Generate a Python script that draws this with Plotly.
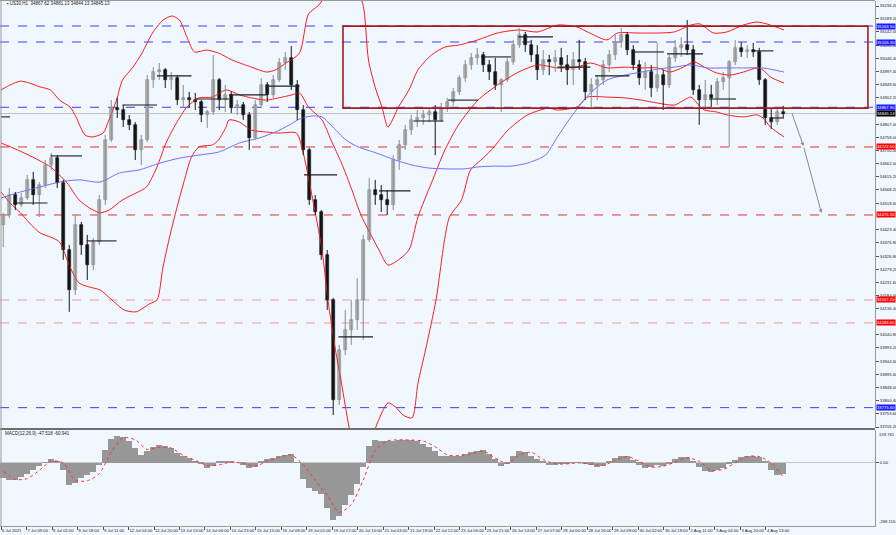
import plotly.graph_objects as go

# ---------------- data ----------------
symbol_title = "US30,H1  34867.62 34881.13 34844.13 34845.13"
macd_title = "MACD(12,26,9) -47.518 -60.941"
bars_per_candle = 4   # each drawn candle groups 4 hourly bars

opens = [34440,34476,34549,34513,34538,34604,34549,34585,34658,34684,
         34593,34349,34204,34440,34367,34294,34378,34531,34749,34865,
         34858,34822,34804,34713,34749,34967,34996,35004,34967,34974,
         34894,34902,34894,34887,34840,34851,34967,34894,34913,34865,
         34876,34840,34756,34876,34949,34913,34967,35029,35047,34949,
         34858,34713,34531,34487,34331,34167,33804,33985,34058,34095,
         34167,34385,34567,34549,34531,34513,34676,34731,34785,34822,
         34829,34840,34851,34822,34865,34887,34924,34974,35022,35047,
         35058,35022,34996,34949,34967,35033,35094,35131,35094,35058,
         35004,35040,35033,35047,35022,35004,35040,35033,34924,34949,
         34967,35022,35058,35105,35131,35076,35022,34974,34996,34938,
         34985,34949,35047,35084,35094,35076,34931,34894,34913,34902,
         34960,34974,35033,35084,35069,35076,35069,34967,34829,34814,
         34851]
highs = [34484,34574,34560,34556,34622,34633,34596,34676,34702,34694,
         34604,34367,34476,34451,34404,34393,34549,34767,34894,34902,
         34876,34840,34814,34767,34985,35014,35029,35011,34996,34985,
         34949,34924,34920,34894,34858,35058,34974,34949,34924,34894,
         34887,34851,34894,34974,34960,34985,35047,35069,35091,34967,
         34876,34720,34549,34494,34349,34175,34004,34131,34167,34247,
         34404,34611,34604,34585,34567,34694,34749,34804,34840,34858,
         34858,34865,34876,34884,34902,34938,34985,35040,35065,35084,
         35069,35040,35047,34974,35047,35113,35156,35142,35113,35094,
         35076,35058,35076,35084,35058,35069,35113,35047,34974,34985,
         35040,35076,35131,35156,35142,35094,35040,35033,35022,35102,
         35004,35058,35113,35123,35185,35094,34949,34967,34949,34974,
         34996,35040,35113,35105,35094,35102,35084,34974,34865,34869,
         34873]
lows = [34360,34465,34494,34505,34531,34513,34469,34574,34640,34574,
        34313,34124,34185,34331,34240,34276,34367,34513,34742,34829,
        34796,34785,34676,34658,34742,34938,34967,34938,34931,34876,
        34865,34865,34858,34814,34793,34840,34858,34851,34847,34840,
        34822,34713,34749,34865,34887,34902,34960,35004,34931,34822,
        34694,34513,34476,34313,34131,33749,33785,33967,34004,34058,
        34022,34378,34513,34487,34476,34494,34640,34713,34767,34796,
        34804,34814,34694,34814,34851,34873,34913,34960,35004,35022,
        34996,34967,34931,34851,34960,35022,35084,35069,35033,34967,
        34985,34985,34996,34996,34949,34949,35004,34894,34869,34894,
        34949,34996,35040,35084,35058,35004,34949,34931,34905,34924,
        34858,34938,35033,35051,35058,34913,34804,34858,34869,34876,
        34931,34724,35022,35051,35047,35051,34949,34804,34789,34804,
        34829]
closes = [34476,34549,34513,34538,34604,34549,34585,34658,34684,34593,
          34349,34204,34440,34367,34294,34378,34531,34749,34865,34858,
          34822,34804,34713,34749,34967,34996,35004,34967,34974,34894,
          34902,34894,34887,34840,34851,34967,34894,34913,34865,34876,
          34840,34756,34876,34949,34913,34967,35029,35047,34949,34858,
          34713,34531,34487,34331,34167,33804,33985,34058,34095,34167,
          34385,34567,34549,34531,34513,34676,34731,34785,34822,34829,
          34840,34851,34822,34865,34887,34924,34974,35022,35047,35058,
          35022,34996,34949,34967,35033,35094,35131,35094,35058,35004,
          35040,35033,35047,35022,35004,35040,35033,34924,34949,34967,
          35022,35058,35105,35131,35076,35022,34974,34996,34938,34985,
          34949,35047,35084,35094,35076,34931,34894,34913,34902,34960,
          34974,35033,35084,35069,35076,35069,34967,34829,34814,34851,
          34845]

# Bollinger bands (red) and moving average (blue): (bar index, price)
upper_t = [0,6,13,19,26,33,39,46,50,56,61,68,72,77,81,88,94,101,108,114,
           119,124,129,137,145,154,167,177,183,190,199,205,212,218,225,232,237,242,245,250,
           254,258,265,272,278,287,296,305,318,331,345,358,371,384,391,404,411,424,438,449,
           460,466,475,484,495,504,513,522]
upper_p = [34931,34949,34963,34956,34942,34931,34894,34869,34833,34767,34760,34774,34822,34894,34967,35014,35065,35138,35185,35200,
           35185,35123,35069,35076,35065,35040,35014,34996,35004,35029,35065,35207,35240,35294,35403,35429,35331,35222,35040,34931,
           34869,34796,34869,34931,35004,35058,35087,35094,35113,35138,35149,35142,35167,35160,35142,35113,35138,35138,35138,35142,
           35167,35171,35138,35142,35167,35178,35167,35149]
middle_t = [0,11,21,33,44,52,59,66,72,81,90,97,104,110,117,124,132,141,150,159,
            167,177,185,194,199,205,214,220,227,234,240,252,258,265,272,278,287,296,305,318,
            331,345,358,371,384,393,404,416,427,438,446,455,462,469,477,486,495,504,508,513,522]
middle_p = [34738,34713,34687,34651,34593,34531,34502,34484,34494,34531,34556,34578,34651,34738,34811,34869,34902,34905,34931,34913,
            34902,34894,34902,34913,34920,34869,34822,34749,34665,34567,34476,34349,34294,34313,34349,34469,34593,34713,34804,34894,
            34949,34996,35022,35011,35014,35029,35011,35014,35011,35011,34996,35014,35033,35014,34993,34985,34996,35011,35004,34978,34956]
lower_t = [0,6,13,19,26,33,39,46,52,59,66,74,82,90,99,104,108,114,121,127,
           132,141,145,150,152,159,167,177,185,197,201,207,214,218,223,227,232,237,242,245,
           250,258,263,268,274,278,283,290,296,299,307,313,320,327,338,351,365,371,384,391,
           404,416,427,438,449,460,464,469,477,484,495,504,508,513,522]
lower_p = [34560,34520,34484,34447,34411,34396,34378,34287,34229,34214,34204,34167,34131,34124,34153,34167,34287,34433,34578,34687,
           34724,34731,34749,34796,34822,34814,34785,34778,34774,34774,34713,34556,34349,34167,33985,33865,33706,33585,33549,33604,
           33706,33793,33778,33749,33738,33865,33985,34167,34396,34469,34531,34640,34676,34713,34785,34840,34865,34858,34869,34905,
           34905,34902,34894,34883,34876,34905,34883,34858,34851,34840,34833,34840,34829,34796,34760]
ma_t = [0,13,26,39,52,66,79,92,106,119,132,145,159,172,183,192,199,207,214,220,
        230,238,250,263,274,285,296,309,318,329,340,351,363,371,381,393,404,416,427,438,
        449,460,471,482,495,508,522]
ma_p = [34538,34560,34578,34596,34604,34596,34629,34640,34665,34683,34694,34705,34738,34756,34778,34803,34825,34836,34833,34803,
        34749,34724,34702,34676,34658,34647,34644,34644,34651,34654,34654,34665,34694,34760,34840,34920,34967,34985,34996,35007,
        35014,35022,35011,35011,35011,35011,34996]

# daily black level segments
seg_t0 = [0,8,33,57,81,104,130,152,177,202,225,252,275,298,320,345,371,396,421,444,472,502,513]
seg_t1 = [6,31,54,77,104,127,152,177,199,224,248,273,295,318,340,368,393,419,442,468,490,515,522]
seg_p = [34833,34520,34691,34382,34876,34982,34898,34913,34945,34622,34033,34564,34818,34894,35051,
         35124,35014,34982,35069,35062,34898,35073,34829]

# MACD histogram (per drawn candle) and signal (every second candle)
macd_hist = [-64,-74,-74,-62,-46,-31,-15,3,17,8,
             -32,-93,-84,-64,-53,-39,-11,55,101,116,
             112,91,62,32,50,67,74,73,62,41,
             28,20,10,-3,-20,-15,6,6,4,0,
             -7,-22,-17,8,15,20,31,35,36,3,
             -70,-107,-121,-133,-193,-242,-224,-179,-137,-88,
             -18,73,98,94,93,94,97,98,97,93,
             81,67,50,31,31,31,31,38,45,50,
             55,39,17,-14,-1,28,49,45,31,15,
             7,-11,-8,-6,-3,1,3,-1,-8,-17,
             -13,7,22,29,28,14,-8,-22,-18,-11,
             -14,-1,17,25,24,10,-18,-35,-39,-31,
             -21,-4,14,25,31,29,24,6,-29,-53,
             -47]
macd_signal = [-36,-70,-67,-32,8,0,-74,-76,-46,45,
               107,98,57,67,63,32,11,-11,-8,4,
               -3,-14,7,24,34,-8,-74,-137,-210,-177,
               -73,52,93,98,97,93,69,34,31,38,
               50,21,-3,34,45,14,-4,-4,0,-6,
               -10,10,27,7,-18,-14,3,22,7,-31,
               -28,0,27,27,-1,-60]

# horizontal levels
level_p = [35163.5, 35105.3, 34867.9, 34723.5, 34476.3, 34167.2, 34083.6, 33775.6]
level_c = ["#3d3dff", "#3d3dff", "#3d3dff", "#e8302f", "#e8302f", "#f29a9a", "#f29a9a", "#3d3dff"]
level_box = ["#1a1aff", "#1a1aff", "#1a1aff", "#ff0000", "#ff0000", "#ff0000", "#ff0000", "#1a1aff"]
last_price = 34845.13

rect_t = [228, 578]
rect_p = [34865, 35163]
arrow_t = [527, 535, 547]
arrow_p = [34851, 34727, 34484]

time_labels = ["6 Jul 2021","7 Jul 09:00","8 Jul 02:00","8 Jul 18:00","9 Jul 11:00","12 Jul 04:00",
               "12 Jul 20:00","13 Jul 13:00","14 Jul 06:00","14 Jul 23:00","15 Jul 15:00","16 Jul 08:00",
               "19 Jul 01:00","19 Jul 17:00","20 Jul 10:00","21 Jul 03:00","21 Jul 19:00","22 Jul 12:00",
               "23 Jul 05:00","23 Jul 21:00","26 Jul 14:00","27 Jul 07:00","28 Jul 00:00","28 Jul 16:00",
               "29 Jul 09:00","30 Jul 02:00","30 Jul 18:00","2 Aug 11:00","3 Aug 04:00","3 Aug 20:00","4 Aug 13:00"]
bars_per_label = 17
# price scale labels (those hidden behind the coloured level boxes are left out)
price_labels = ["35236.20","35189.20","35142.00","35094.00","35046.40","34997.40","34949.60","34902.20",
                "34807.00","34758.00","34710.00","34662.00","34615.20","34568.20","34518.60",
                "34423.40","34376.80","34326.80","34279.20","34231.60","34184.00","34136.40",
                "34040.80","33993.20","33944.60","33895.60","33848.00","33800.40","33753.60","33705.20"]
macd_max_label = "139.761"
macd_zero_label = "0.00"
macd_min_label = "-268.116"

# ---------------- figure ----------------
W, H = 896, 535
PW = 875 / W
BG = "#f0f7fe"
FONT = "Liberation Sans"
XR = [-0.67, 582.7]
YR = [33701.6, 35254.4]
MR = [float(macd_min_label), float(macd_max_label)]

candle_t = [bars_per_candle * i + 1.5 for i in range(len(closes))]
signal_t = candle_t[::2]

fig = go.Figure()
for t, p in ((upper_t, upper_p), (middle_t, middle_p), (lower_t, lower_p)):
    fig.add_trace(go.Scatter(x=t, y=p, mode="lines", xaxis="x", yaxis="y",
                             line=dict(color="#ff1c1c", width=1, shape="spline", smoothing=0.7),
                             hoverinfo="skip"))
fig.add_trace(go.Scatter(x=ma_t, y=ma_p, mode="lines", xaxis="x", yaxis="y",
                         line=dict(color="#7070ff", width=1, shape="spline", smoothing=0.7),
                         hoverinfo="skip"))

# candles: wicks + bodies, split into up / down
for up, col_w, col_b in ((True, "#8a8a8a", "#b9b9b9"), (False, "#161616", "#161616")):
    wx, wy, bx, bb, bh = [], [], [], [], []
    for t, o, h, l, c in zip(candle_t, opens, highs, lows, closes):
        if (c >= o) != up:
            continue
        wx += [t, t, None]
        wy += [l, h, None]
        bx.append(t)
        bb.append(min(o, c))
        bh.append(max(abs(c - o), 3))
    fig.add_trace(go.Scatter(x=wx, y=wy, mode="lines", xaxis="x", yaxis="y",
                             line=dict(color=col_w, width=1), hoverinfo="skip"))
    fig.add_trace(go.Bar(x=bx, y=bh, base=bb, width=2.0, xaxis="x", yaxis="y",
                         marker=dict(color=col_b, line=dict(color=col_w, width=0.6))))

fig.add_trace(go.Bar(x=candle_t, y=macd_hist, width=3.7, xaxis="x2", yaxis="y2",
                     marker=dict(color="#979797", line=dict(width=0))))
fig.add_trace(go.Scatter(x=signal_t, y=macd_signal, mode="lines", xaxis="x2", yaxis="y2",
                         line=dict(color="#ff3030", width=1, dash="dot", shape="spline", smoothing=0.7)))

shapes = []
for p, c in zip(level_p, level_c):
    shapes.append(dict(type="line", xref="paper", yref="y", x0=0, x1=PW, y0=p, y1=p,
                       line=dict(color=c, width=1, dash="dash"), layer="below"))
shapes.append(dict(type="line", xref="paper", yref="y", x0=0, x1=PW, y0=last_price, y1=last_price,
                   line=dict(color="#c0c0c0", width=1), layer="below"))
for a, b, p in zip(seg_t0, seg_t1, seg_p):
    shapes.append(dict(type="line", xref="x", yref="y", x0=a, x1=b, y0=p, y1=p,
                       line=dict(color="#1e1e1e", width=1.1)))
shapes.append(dict(type="rect", xref="x", yref="y", x0=rect_t[0], x1=rect_t[1], y0=rect_p[0], y1=rect_p[1],
                   line=dict(color="#a51c1c", width=1.6)))
# frame lines
shapes.append(dict(type="line", xref="paper", yref="paper", x0=0, x1=PW, y0=1 - 429 / H, y1=1 - 429 / H,
                   line=dict(color="#6e6e6e", width=2)))
shapes.append(dict(type="line", xref="paper", yref="paper", x0=0, x1=PW, y0=1 - 0.5 / H, y1=1 - 0.5 / H,
                   line=dict(color="#9a9a9a", width=1)))
shapes.append(dict(type="line", xref="paper", yref="paper", x0=1 / W, x1=1 / W, y0=1 - 526 / H, y1=1,
                   line=dict(color="#9a9a9a", width=1)))

ann = []
ann.append(dict(xref="paper", yref="paper", x=5 / W, y=1 - 4 / H, text="▪ " + symbol_title, showarrow=False,
                xanchor="left", yanchor="middle", font=dict(size=4.5, color="#222", family=FONT)))
ann.append(dict(xref="paper", yref="paper", x=3 / W, y=1 - 433 / H, text=macd_title, showarrow=False,
                xanchor="left", yanchor="middle", font=dict(size=4.5, color="#222", family=FONT)))
for p, c in zip(level_p, level_box):
    ann.append(dict(xref="paper", yref="y", x=876 / W, y=p, text="%.2f" % p, showarrow=False,
                    xanchor="left", yanchor="middle", bgcolor=c, borderpad=0,
                    font=dict(size=4.2, color="white", family=FONT)))
ann.append(dict(xref="paper", yref="y", x=876 / W, y=last_price, text="%.2f" % last_price, showarrow=False,
                xanchor="left", yanchor="middle", bgcolor="#000000", borderpad=0,
                font=dict(size=4.2, color="white", family=FONT)))
ann.append(dict(xref="paper", yref="y2", x=877 / W, y=MR[1], text=macd_max_label, showarrow=False,
                xanchor="left", yanchor="top", font=dict(size=4.2, color="#222", family=FONT)))
ann.append(dict(xref="paper", yref="y2", x=877 / W, y=MR[0], text=macd_min_label, showarrow=False,
                xanchor="left", yanchor="bottom", font=dict(size=4.2, color="#222", family=FONT)))
for i in range(len(arrow_t) - 1):
    ann.append(dict(xref="x", yref="y", axref="x", ayref="y", x=arrow_t[i + 1], y=arrow_p[i + 1],
                    ax=arrow_t[i], ay=arrow_p[i], text="", showarrow=True, arrowhead=2,
                    arrowsize=0.7, arrowwidth=1, arrowcolor="#8a8a8a"))

axis_font = dict(size=4.2, color="#222", family=FONT)
fig.update_layout(
    template="none",
    width=W, height=H, margin=dict(l=0, r=0, t=0, b=0, pad=0),
    paper_bgcolor=BG, plot_bgcolor=BG, showlegend=False, bargap=0, barmode="overlay",
    font=dict(family=FONT, size=5),
    shapes=shapes, annotations=ann,
    xaxis=dict(domain=[0, PW], range=XR, anchor="y", showticklabels=False, showgrid=False,
               zeroline=False, showline=False, automargin=False, ticks=""),
    yaxis=dict(domain=[1 - 428 / H, 1 - 1 / H], range=YR, side="right", anchor="x",
               tickvals=[float(s) for s in price_labels], ticktext=price_labels,
               ticks="outside", ticklen=3, tickcolor="#555", tickfont=axis_font, automargin=False,
               showgrid=False, zeroline=False, showline=True, linecolor="#9a9a9a"),
    xaxis2=dict(domain=[0, PW], range=XR, anchor="y2", automargin=False, tickangle=0,
                tickvals=[bars_per_label * i for i in range(len(time_labels))], ticktext=time_labels,
                ticklabelposition="outside right", ticks="outside", ticklen=3, tickcolor="#555",
                tickfont=axis_font, showgrid=False, zeroline=False, showline=True, linecolor="#9a9a9a"),
    yaxis2=dict(domain=[1 - 526 / H, 1 - 430 / H], range=MR, side="right", anchor="x2", automargin=False,
                tickvals=[float(macd_zero_label)], ticktext=[macd_zero_label],
                ticks="outside", ticklen=3, tickcolor="#555", tickfont=axis_font,
                showgrid=False, zeroline=True, zerolinecolor="#c8c8c8", zerolinewidth=1,
                showline=True, linecolor="#9a9a9a"),
)
fig.write_html("out.html", config={"displayModeBar": False},
               post_script="document.body.style.margin='0px';document.body.style.background='%s';" % BG)
